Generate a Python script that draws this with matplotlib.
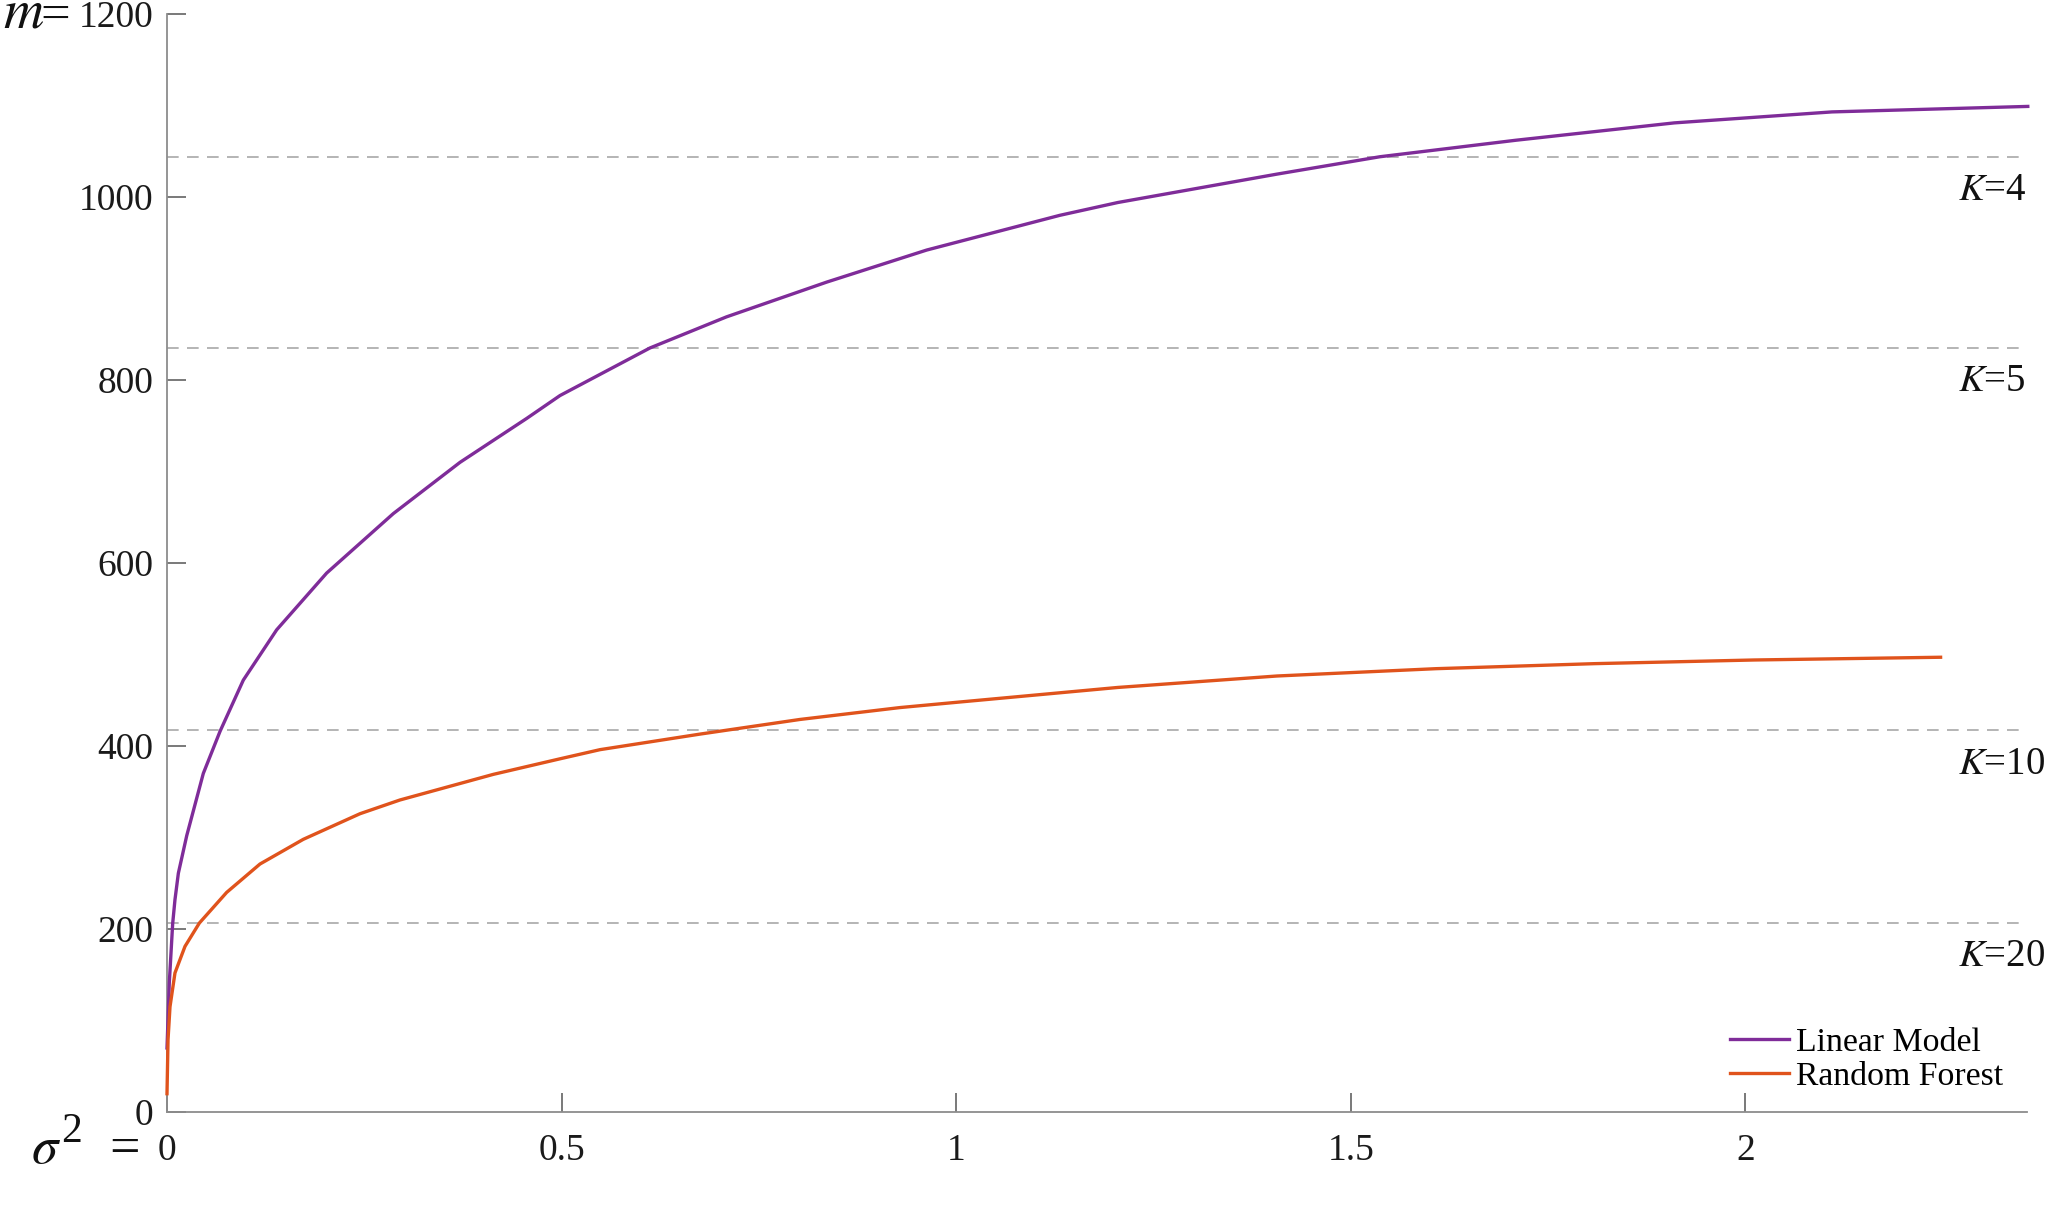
import numpy as np
from matplotlib import pyplot as plt
from matplotlib.lines import Line2D

plt.rcParams['font.family'] = ['Liberation Serif', 'DejaVu Serif']
plt.rcParams['mathtext.fontset'] = 'stix'

# values
lm_x = [0, 0.0029, 0.0072, 0.0101, 0.0144, 0.025, 0.046, 0.0672, 0.0967, 0.139,
        0.2023, 0.2868, 0.3713, 0.4558, 0.498, 0.612, 0.709, 0.836, 0.9626, 1.1315,
        1.205, 1.4065, 1.537, 1.709, 1.91, 2.11, 2.358]
lm_y = [70, 141, 206, 232, 261, 302, 370, 416, 472, 527,
        589, 654, 710, 758, 783, 835, 869, 907, 942, 980,
        994, 1025, 1044, 1062, 1081, 1093, 1099]

rf_x = [0, 0.0013, 0.0038, 0.0101, 0.0228, 0.041, 0.0756, 0.1178, 0.1727, 0.2446,
        0.2952, 0.329, 0.4135, 0.498, 0.5487, 0.6754, 0.802, 0.9288, 1.0036, 1.205,
        1.4065, 1.608, 1.809, 2.011, 2.2475]
rf_y = [20, 79, 115, 152, 181, 206.5, 240, 271, 298, 326,
        341, 349, 369, 386, 396, 413, 429, 442, 448, 464,
        476.5, 484.5, 490, 494, 497]

k_labels = ['4', '5', '10', '20']
k_levels = [1044, 835, 417, 207]

x_ticks = [0, 0.5, 1, 1.5, 2]
x_ticklabels = ['0', '0.5', '1', '1.5', '2']
y_ticks = [0, 200, 400, 600, 800, 1000, 1200]

c_lm = '#7f2c99'
c_rf = '#e0531c'
axis_grey = '#8c8c8c'
txt = '#111111'

W, H = 2046, 1216
fig = plt.figure(figsize=(W / 100, H / 100), dpi=100)
ax = fig.add_axes([167 / W, 1 - 1112 / H, (2027 - 167) / W, (1112 - 14) / H])

ax.plot(lm_x, lm_y, color=c_lm, lw=2.4, clip_on=False, zorder=3,
        solid_joinstyle='round')
ax.plot(rf_x, rf_y, color=c_rf, lw=2.4, clip_on=False, zorder=4,
        solid_joinstyle='round')

for lab, lev in zip(k_labels, k_levels):
    ax.axhline(lev, color='#a8a8a8', lw=1.2, dashes=(7, 5), zorder=1)
    ax.text(2.270, lev - 37, '$K$=' + lab, fontsize=28, color=txt,
            ha='left', va='center', clip_on=False)

ax.set_xlim(0, 2.357)
ax.set_ylim(0, 1200)
ax.set_xticks(x_ticks)
ax.set_xticklabels(x_ticklabels)
ax.set_yticks(y_ticks)

for s in ['top', 'right']:
    ax.spines[s].set_visible(False)
for s in ['left', 'bottom']:
    ax.spines[s].set_color(axis_grey)
    ax.spines[s].set_linewidth(1.3)

ax.tick_params(axis='both', direction='in', length=14, width=1.1, color='#555555',
               labelsize=27, labelcolor='#1a1a1a')
ax.tick_params(axis='y', pad=10)
ax.tick_params(axis='x', pad=15.5)

# axis labels, placed Mathematica style next to the end ticks
fig.text(3 / W, 1 - 28 / H, '$m$', fontsize=40, ha='left', va='baseline', color=txt)
fig.text(40 / W, 1 - 30 / H, '=', fontsize=38, ha='left', va='baseline', color=txt)
fig.text(31 / W, 1 - 1163 / H, r'$\sigma$', fontsize=38, ha='left', va='baseline', color=txt)
fig.text(61 / W, 1 - 1142 / H, '2', fontsize=30, ha='left', va='baseline', color=txt)
fig.text(109 / W, 1 - 1164 / H, '=', fontsize=39, ha='left', va='baseline', color=txt)

handles = [Line2D([], [], color=c_lm, lw=2.4), Line2D([], [], color=c_rf, lw=2.4)]
ax.legend(handles, ['Linear Model', 'Random Forest'], loc='lower left',
          bbox_to_anchor=(1730 / W, 1 - 1092 / H), bbox_transform=fig.transFigure,
          frameon=False, fontsize=24.3, handlelength=1.75, handletextpad=0.2,
          labelspacing=0.1, borderpad=0, borderaxespad=0)

fig.savefig('out.png', dpi=100, facecolor='white')
